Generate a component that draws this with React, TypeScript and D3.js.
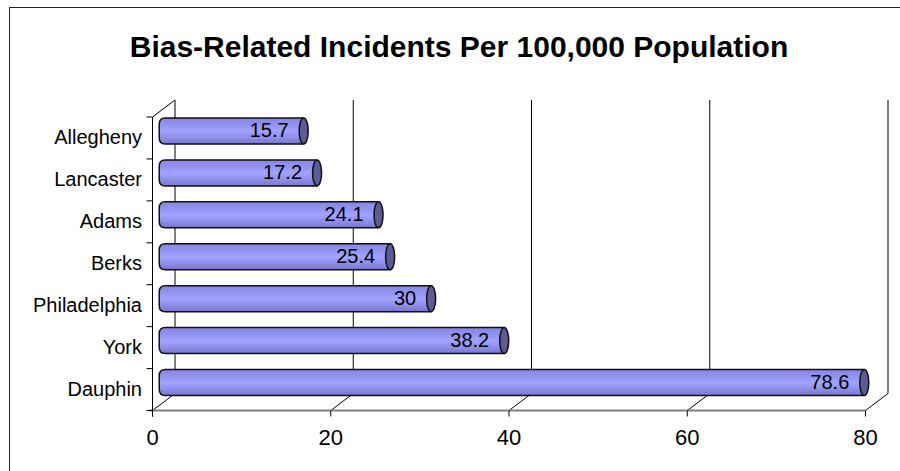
import React, { useEffect, useRef } from 'react';
import * as d3 from 'd3';

const counties = ['Allegheny', 'Lancaster', 'Adams', 'Berks', 'Philadelphia', 'York', 'Dauphin'];
const rates = [15.7, 17.2, 24.1, 25.4, 30, 38.2, 78.6];
const xTicks = [0, 20, 40, 60, 80];
const title = 'Bias-Related Incidents Per 100,000 Population';

const FONT = '"Liberation Sans", Arial, sans-serif';

const App = () => {
  const ref = useRef<SVGSVGElement>(null);

  useEffect(() => {
    const svg = d3.select(ref.current);
    svg.selectAll('*').remove();

    const front = { left: 152.5, right: 865.5, top: 117, bottom: 410.5 };
    const depth = { dx: 22.5, dy: -17 };

    const xFront = d3.scaleLinear().domain([0, 80]).range([front.left, front.right]);
    const xBack = (v: number) => xFront(v) + depth.dx;
    const xMid = (v: number) => xFront(v) + depth.dx / 2;
    const y = d3.scaleBand().domain(counties).range([front.top, front.bottom]);

    const defs = svg.append('defs');
    const grad = defs.append('linearGradient').attr('id', 'barGrad')
      .attr('x1', 0).attr('y1', 0).attr('x2', 0).attr('y2', 1);
    [[0, '#8686e2'], [0.3, '#9494f2'], [0.5, '#a2a2ff'], [0.72, '#9292ee'], [1, '#7676ca']]
      .forEach(([o, c]) => grad.append('stop').attr('offset', o as number).attr('stop-color', c as string));

    // outer frame
    svg.append('rect').attr('x', 9.5).attr('y', 7.5).attr('width', 900).attr('height', 500)
      .attr('fill', 'white').attr('stroke', '#222').attr('stroke-width', 1);

    svg.append('text').attr('x', 459).attr('y', 57).attr('text-anchor', 'middle')
      .style('font-family', FONT).style('font-weight', 'bold').style('font-size', '30px')
      .text(title);

    const backTop = front.top + depth.dy;
    const backBottom = front.bottom + depth.dy;

    // back wall gridlines + floor lines
    xTicks.forEach(v => {
      const last = v === 80;
      svg.append('line')
        .attr('x1', xBack(v)).attr('x2', xBack(v))
        .attr('y1', backTop).attr('y2', backBottom)
        .attr('stroke', last ? '#808080' : '#000').attr('stroke-width', last ? 2 : 1);
      svg.append('line')
        .attr('x1', xBack(v)).attr('y1', backBottom)
        .attr('x2', xFront(v)).attr('y2', front.bottom)
        .attr('stroke', '#000').attr('stroke-width', 1);
    });

    // left wall top edge
    svg.append('line').attr('x1', front.left).attr('y1', front.top)
      .attr('x2', xBack(0)).attr('y2', backTop).attr('stroke', '#000');

    // front value axis
    svg.append('line').attr('x1', front.left - 3).attr('x2', front.right)
      .attr('y1', front.bottom).attr('y2', front.bottom)
      .attr('stroke', '#808080').attr('stroke-width', 2);
    xTicks.forEach(v => {
      svg.append('line').attr('x1', xFront(v)).attr('x2', xFront(v))
        .attr('y1', front.bottom).attr('y2', front.bottom + 6).attr('stroke', '#000');
      svg.append('text').attr('x', xFront(v)).attr('y', 445).attr('text-anchor', 'middle')
        .style('font-family', FONT).style('font-size', '22px').text(v);
    });

    // category axis
    svg.append('line').attr('x1', front.left).attr('x2', front.left)
      .attr('y1', front.top).attr('y2', front.bottom + 6).attr('stroke', '#000');
    d3.range(counties.length + 1).forEach(i => {
      const yy = front.top + i * y.step();
      svg.append('line').attr('x1', front.left - 6).attr('x2', front.left)
        .attr('y1', yy).attr('y2', yy).attr('stroke', '#000');
    });
    counties.forEach(c => {
      svg.append('text').attr('x', 142).attr('y', y(c)! + y.bandwidth() / 2 + 6)
        .attr('text-anchor', 'end')
        .style('font-family', FONT).style('font-size', '20px').text(c);
    });

    // cylinders
    const bh = 26, rx = 4.5, r = 6;
    counties.forEach((c, i) => {
      const v = rates[i];
      const yc = y(c)! + y.bandwidth() / 2 - 7;
      const top = yc - bh / 2, bot = yc + bh / 2;
      const x0 = xMid(0) - rx, x1 = xMid(v);
      const g = svg.append('g');
      const p = d3.path();
      p.moveTo(x1, top);
      p.lineTo(x0 + r, top);
      p.quadraticCurveTo(x0, top, x0, top + r);
      p.lineTo(x0, bot - r);
      p.quadraticCurveTo(x0, bot, x0 + r, bot);
      p.lineTo(x1, bot);
      g.append('path').attr('d', p.toString()).attr('fill', 'url(#barGrad)')
        .attr('stroke', '#111').attr('stroke-width', 1.5);
      g.append('ellipse').attr('cx', x1).attr('cy', yc).attr('rx', rx).attr('ry', bh / 2)
        .attr('fill', '#5b5b98').attr('stroke', '#111').attr('stroke-width', 1.5);
      g.append('text').attr('x', x1 - 15).attr('y', yc + 6).attr('text-anchor', 'end')
        .style('font-family', FONT).style('font-size', '20px').text(v);
    });
  }, []);

  return <svg ref={ref} width={900} height={471} style={{ position: 'absolute', left: 0, top: 0 }} />;
};

export default App;
